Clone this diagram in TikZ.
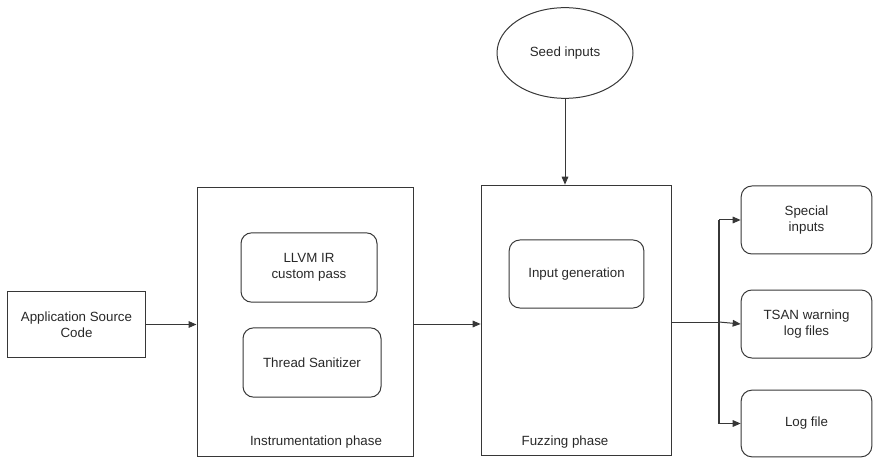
\documentclass[tikz,border=0pt]{standalone}
\usepackage{fontspec}
\setmainfont{Liberation Sans}
\usetikzlibrary{shapes.geometric,arrows.meta}

\tikzset{every picture/.style={line width=0.75pt}}
\definecolor{linegray}{RGB}{55,55,55}
\definecolor{textgray}{RGB}{40,40,40}
\tikzset{
  plainbox/.style={draw=linegray, rectangle, inner sep=0pt, align=center, text=textgray, font=\fontsize{10}{12}\selectfont},
  roundbox/.style={plainbox, rounded corners=8pt},
  phaselabel/.style={inner sep=0.75pt, text=textgray, font=\fontsize{10}{12}\selectfont},
  flow/.style={draw=linegray, -{Triangle[length=6pt,width=5pt]}}
}

\begin{document}
\begin{tikzpicture}[x=0.75pt,y=0.75pt,yscale=-1,xscale=1]
\useasboundingbox (0,0) rectangle (873,459);

%Shape: Rectangle [source]
\node [plainbox, minimum width=103pt, minimum height=50pt] (app) at (76.5,324.5) {Application Source\\Code};
%Shape: Rectangle [instrumentation]
\node [plainbox, minimum width=162pt, minimum height=201pt] (instr) at (305,322) {};
%Shape: Rounded Rect
\node [roundbox, minimum width=102pt, minimum height=52pt] (llvm) at (309,267.5) {LLVM IR\\custom pass};
%Shape: Rounded Rect
\node [roundbox, minimum width=103.5pt, minimum height=52pt] (tsan) at (312,362.5) {Thread Sanitizer};
% Text Node
\node [phaselabel] (instrlabel) at (316,442) {Instrumentation phase};

%Shape: Ellipse [seed]
\node [plainbox, ellipse, minimum width=102pt, minimum height=68pt] (seed) at (565,53) {Seed inputs};
%Shape: Rectangle [fuzzing]
\node [plainbox, minimum width=143pt, minimum height=203pt] (fuzz) at (576.5,320.5) {};
%Shape: Rounded Rect
\node [roundbox, minimum width=101pt, minimum height=51pt] (inputgen) at (576.5,274) {Input generation};
% Text Node
\node [phaselabel] (fuzzlabel) at (565,442) {Fuzzing phase};

%Shape: Rounded Rect [outputs]
\node [roundbox, minimum width=98pt, minimum height=51pt] (special) at (806.5,220) {Special\\inputs};
\node [roundbox, minimum width=98pt, minimum height=51pt] (tsanlog) at (806.5,324) {TSAN warning\\log files};
\node [roundbox, minimum width=98pt, minimum height=50pt] (logfile) at (806.5,423.5) {Log file};

%Straight Lines
\coordinate (split) at (719,322);
\draw [flow] (app.east) -- (app.east -| instr.west);
\draw [flow] (instr.east |- 0,324) -- (fuzz.west |- 0,324);
\draw [flow] (seed.south) -- (seed.south |- fuzz.north);
\draw [draw=linegray] (fuzz.east |- split) -- (split);
\draw [draw=linegray, line width=1.3pt] (split |- special.west) -- (split |- logfile.west);
\draw [flow] (split |- special.west) -- (special.west);
\draw [flow] (split) -- (tsanlog.west);
\draw [flow] (split |- logfile.west) -- (logfile.west);

\end{tikzpicture}
\end{document}
